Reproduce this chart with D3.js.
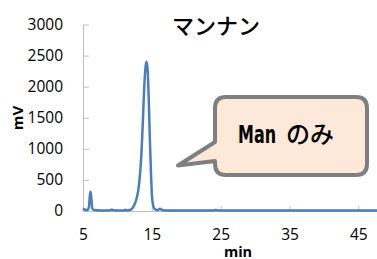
<!DOCTYPE html>
<html>
<head>
<meta charset="utf-8">
<script src="https://cdn.jsdelivr.net/npm/d3@7"></script>
<style>
  body { margin: 0; background: #fff; }
  .tick text { font-family: "Open Sans", sans-serif; font-size: 15.5px; fill: #000; }
</style>
</head>
<body>
<div id="chart"></div>
<script>
var svgWidth = 377;
var svgHeight = 259;

// chromatogram points
var times = [5.0, 5.3, 5.6, 5.85, 6.0, 6.1, 6.2, 6.35, 6.6, 7.5, 8.5, 9.0, 9.2, 9.4, 10.0,
    11.0, 11.2, 11.4, 11.9, 12.2, 12.5, 12.85, 13.05, 13.25, 13.45, 13.7, 13.9, 14.1, 14.25,
    14.4, 14.55, 14.7, 14.85, 15.0, 15.15, 15.4, 15.8, 16.2, 16.5, 17.0, 20.0, 24.0, 24.3,
    24.6, 30.0, 40.0, 48.0];
var mV = [40, 20, 15, 60, 250, 310, 220, 40, 15, 10, 10, 12, 25, 12, 10,
    10, 20, 10, 20, 50, 110, 230, 350, 550, 850, 1450, 2000, 2330, 2400,
    2250, 1800, 1200, 700, 280, 110, 35, 15, 35, 15, 10, 8, 8, 18,
    8, 8, 8, 8];

var xTicks = [5, 15, 25, 35, 45];
var yTicks = [0, 500, 1000, 1500, 2000, 2500, 3000];

var titleText = "マンナン";
var xLabel = "min";
var yLabel = "mV";
var noteLatin = "Man";
var noteJp = "のみ";

var svg = d3.select("#chart")
    .append("svg")
    .attr("width", svgWidth)
    .attr("height", svgHeight);

var x = d3.scaleLinear().domain([5, 48]).range([83, 379]);
var y = d3.scaleLinear().domain([0, 3000]).range([211, 24.5]);

// axes, ticks drawn inward like the Excel original
var xAxis = svg.append("g")
    .attr("transform", "translate(0, 211)")
    .call(d3.axisBottom(x).tickValues(xTicks).tickFormat(d3.format("d"))
        .tickSize(-5).tickSizeOuter(0).tickPadding(18));

var yAxis = svg.append("g")
    .attr("transform", "translate(83, 0)")
    .call(d3.axisLeft(y).tickValues(yTicks).tickFormat(d3.format("d"))
        .tickSize(-6).tickSizeOuter(0).tickPadding(20));

svg.selectAll(".domain, .tick line").attr("stroke", "#bfbfbf");

// data line
var line = d3.line()
    .x(function (d, i) { return x(times[i]); })
    .y(function (d) { return y(d); })
    .curve(d3.curveMonotoneX);

svg.append("path")
    .datum(mV)
    .attr("fill", "none")
    .attr("stroke", "#4a7ebb")
    .attr("stroke-width", 2.5)
    .attr("stroke-linejoin", "round")
    .attr("d", line);

// title and axis labels
svg.append("text")
    .attr("x", 216)
    .attr("y", 34)
    .attr("text-anchor", "middle")
    .attr("font-family", "'Noto Sans CJK JP', sans-serif")
    .attr("font-size", 22)
    .attr("font-weight", 500)
    .text(titleText);

svg.append("text")
    .attr("x", 238)
    .attr("y", 256.5)
    .attr("text-anchor", "middle")
    .attr("font-family", "'Open Sans', sans-serif")
    .attr("font-size", 14.5)
    .attr("font-weight", "bold")
    .text(xLabel);

svg.append("text")
    .attr("transform", "translate(23, 118) rotate(-90)")
    .attr("text-anchor", "middle")
    .attr("font-family", "'Open Sans', sans-serif")
    .attr("font-size", 15)
    .attr("font-weight", "bold")
    .text(yLabel);

// speech-bubble callout
var bx0 = 215, bx1 = 367, by0 = 97, by1 = 175, r = 11;
var bubble = d3.path();
bubble.moveTo(bx0 + r, by0);
bubble.lineTo(bx1 - r, by0);
bubble.quadraticCurveTo(bx1, by0, bx1, by0 + r);
bubble.lineTo(bx1, by1 - r);
bubble.quadraticCurveTo(bx1, by1, bx1 - r, by1);
bubble.lineTo(bx0 + r, by1);
bubble.quadraticCurveTo(bx0, by1, bx0, by1 - r);
bubble.lineTo(bx0, 161);
bubble.lineTo(178, 165.5);
bubble.lineTo(bx0, 142);
bubble.lineTo(bx0, by0 + r);
bubble.quadraticCurveTo(bx0, by0, bx0 + r, by0);
bubble.closePath();

svg.append("path")
    .attr("d", bubble.toString())
    .attr("fill", "#fde9d9")
    .attr("stroke", "#7f7f7f")
    .attr("stroke-width", 4)
    .attr("stroke-linejoin", "round");

svg.append("text")
    .attr("x", 238)
    .attr("y", 143)
    .attr("font-family", "'DejaVu Sans Condensed', 'DejaVu Sans', sans-serif")
    .attr("font-stretch", "condensed")
    .attr("font-size", 24)
    .attr("font-weight", "bold")
    .attr("textLength", 38)
    .attr("lengthAdjust", "spacingAndGlyphs")
    .text(noteLatin);

svg.append("text")
    .attr("x", 286)
    .attr("y", 143)
    .attr("font-family", "'Noto Sans CJK JP', sans-serif")
    .attr("font-size", 24)
    .attr("font-weight", 500)
    .text(noteJp);
</script>
</body>
</html>
